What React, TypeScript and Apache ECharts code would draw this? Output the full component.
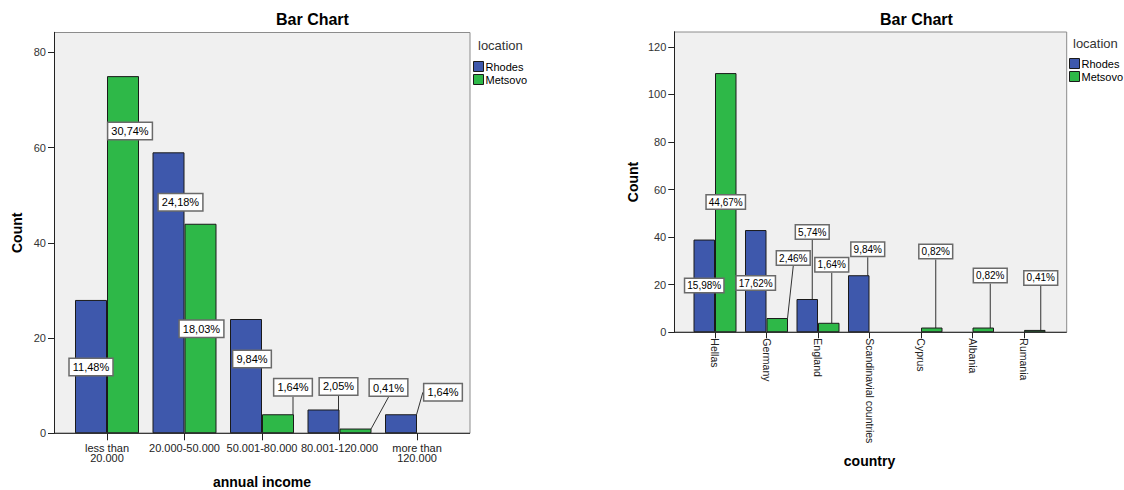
import React, { useEffect, useRef } from "react";
import * as echarts from "echarts";

// ---------- data ----------
const incomeCategories = ["less than\n20.000", "20.000-50.000", "50.001-80.000", "80.001-120.000", "more than\n120.000"];
const incomeRhodes = [28, 59, 24, 5, 4];
const incomeMetsovo = [75, 44, 4, 1, null];
const incomeTicks = [0, 20, 40, 60, 80];

const countryCategories = ["Hellas", "Germany", "England", "Scandinavial countries", "Cyprus", "Albania", "Rumania"];
const countryRhodes = [39, 43, 14, 24, null, null, null];
const countryMetsovo = [109, 6, 4, null, 2, 2, 1];
const countryTicks = [0, 20, 40, 60, 80, 100, 120];

const seriesNames = ["Rhodes", "Metsovo"];
const chartTitle = "Bar Chart";
const legendTitle = "location";

// ---------- layout / style (not data) ----------
const FONT = "'Liberation Sans', Arial, sans-serif";
const COLORS = ["#3E58AC", "#2EB848"];

// label placement in px: [dx of label centre from bar centre, dy of label centre from bar top,
//   leader start dx from label centre, leader end dx from bar centre]
const incomeLabelOffsets: (number[] | null)[][] = [
  [[0, 67], [12, 50], [6, 40], [15, -23, -10, 3], [42, -22, -18, 11]],
  [[7, 55], [1, 105], [15, -27, -9, 2], [33, -41, -18, 1], null],
];
const countryLabelOffsets: (number[] | null)[][] = [
  [[0, 46], [0, 53], [5, -67, -3, 0], [9, -26, -8, 0], null, null, null],
  [[0, 129], [16, -60, -11, 0], [3, -58, 0, -1], null, [4, -76, 0, 2], [7, -52, 0, 2], [6, -52, 1, 2]],
];

const sum = (a: (number | null)[]) => a.reduce((s: number, v) => s + (v ?? 0), 0);
const incomeTotal = sum(incomeRhodes) + sum(incomeMetsovo);
const countryTotal = sum(countryRhodes) + sum(countryMetsovo);

function pct(v: number, total: number) {
  return (Math.round((v / total) * 10000) / 100).toFixed(2).replace(".", ",") + "%";
}

function makeSeries(
  name: string,
  colorIdx: number,
  values: (number | null)[],
  offsets: (number[] | null)[],
  axisIdx: number,
  total: number,
  barWidth: number,
  fontSize: number,
  padding: number[]
) {
  return {
    type: "bar",
    name,
    xAxisIndex: axisIdx,
    yAxisIndex: axisIdx,
    barWidth,
    barGap: "0%",
    data: values.map((v, i) =>
      v == null
        ? "-"
        : { value: v, labelLine: { show: !!offsets[i] && offsets[i]!.length > 2 } }
    ),
    itemStyle: { color: COLORS[colorIdx], borderColor: "#1a1a1a", borderWidth: 1 },
    label: {
      show: true,
      position: "inside",
      formatter: (p: any) => pct(p.value, total),
      backgroundColor: "#ffffff",
      borderColor: "#6a6a6a",
      borderWidth: 1.5,
      padding,
      color: "#000",
      fontSize,
      fontFamily: FONT,
    },
    labelLine: { show: false, lineStyle: { color: "#333", width: 1 } },
    labelLayout: (params: any) => {
      const off = offsets[params.dataIndex];
      if (!off) return {};
      const r = params.rect;
      const top = Math.min(r.y, r.y + r.height);
      const cx = r.x + r.width / 2;
      const lx = cx + off[0];
      const ly = top + off[1];
      const res: any = { x: lx, y: ly, align: "center", verticalAlign: "middle" };
      if (off.length > 2) {
        const lh = params.labelRect ? params.labelRect.height : 16;
        res.labelLinePoints = [
          [lx + off[2], ly + lh / 2],
          [cx + off[3], top],
        ];
      }
      return res;
    },
  };
}

const frames = [
  { x: 54.5, y: 32.5, w: 415.5, h: 400.8 },
  { x: 674.5, y: 32, w: 392.2, h: 300.3 },
];

const option: any = {
  animation: false,
  backgroundColor: "#ffffff",
  textStyle: { fontFamily: FONT },
  title: [
    { text: chartTitle, left: 276, top: 11, padding: 0, textStyle: { fontSize: 16, fontWeight: "bold", color: "#000", fontFamily: FONT } },
    { text: chartTitle, left: 880, top: 11, padding: 0, textStyle: { fontSize: 16, fontWeight: "bold", color: "#000", fontFamily: FONT } },
    { text: legendTitle, left: 478, top: 39, padding: 0, textStyle: { fontSize: 13, fontWeight: "normal", color: "#333", fontFamily: FONT } },
    { text: legendTitle, left: 1073, top: 37, padding: 0, textStyle: { fontSize: 13, fontWeight: "normal", color: "#333", fontFamily: FONT } },
  ],
  legend: [
    {
      data: seriesNames, orient: "vertical", left: 473, top: 61, padding: 0,
      itemWidth: 10, itemHeight: 10, itemGap: 2, icon: "rect",
      itemStyle: { borderColor: "#1a1a1a", borderWidth: 1 },
      textStyle: { fontSize: 11, lineHeight: 11, color: "#000", fontFamily: FONT, padding: [0, 0, 0, -3] },
      selectedMode: false,
    },
    {
      data: seriesNames, orient: "vertical", left: 1069, top: 58, padding: 0,
      itemWidth: 10, itemHeight: 10, itemGap: 2, icon: "rect",
      itemStyle: { borderColor: "#1a1a1a", borderWidth: 1 },
      textStyle: { fontSize: 11, lineHeight: 11, color: "#000", fontFamily: FONT, padding: [0, 0, 0, -3] },
      selectedMode: false,
    },
  ],
  grid: [
    { left: 68.25, top: 32.3, width: 387.5, height: 401, containLabel: false, outerBoundsMode: "none" },
    { left: 689.25, top: 31.7, width: 360.5, height: 300.6, containLabel: false, outerBoundsMode: "none" },
  ],
  xAxis: [
    {
      type: "category", gridIndex: 0, data: incomeCategories,
      axisLine: { show: false },
      axisTick: { show: true, alignWithLabel: true, length: 7, lineStyle: { color: "#222" } },
      axisLabel: { interval: 0, color: "#222", fontSize: 11, lineHeight: 10, margin: 10, fontFamily: FONT },
      name: "annual income", nameLocation: "middle", nameGap: 42,
      nameTextStyle: { fontWeight: "bold", fontSize: 14, color: "#000", fontFamily: FONT },
    },
    {
      type: "category", gridIndex: 1, data: countryCategories,
      axisLine: { show: false },
      axisTick: { show: true, alignWithLabel: true, length: 6, lineStyle: { color: "#222" } },
      axisLabel: { interval: 0, rotate: -90, color: "#222", fontSize: 10.5, margin: 6, fontFamily: FONT },
      name: "country", nameLocation: "middle", nameGap: 122,
      nameTextStyle: { fontWeight: "bold", fontSize: 14, color: "#000", fontFamily: FONT },
    },
  ],
  yAxis: [
    {
      type: "value", gridIndex: 0, min: 0, max: 84.2, interval: 20, offset: 14.25,
      axisLine: { show: true, lineStyle: { color: "#222" } },
      axisTick: { show: true, length: 6, customValues: incomeTicks, lineStyle: { color: "#222" } },
      axisLabel: { customValues: incomeTicks, color: "#333", fontSize: 11, margin: 8, fontFamily: FONT },
      splitLine: { show: false },
      name: "Count", nameLocation: "middle", nameRotate: 90, nameGap: 30,
      nameTextStyle: { fontWeight: "bold", fontSize: 14, color: "#000", fontFamily: FONT },
    },
    {
      type: "value", gridIndex: 1, min: 0, max: 126.4, interval: 20, offset: 15,
      axisLine: { show: true, lineStyle: { color: "#222" } },
      axisTick: { show: true, length: 6, customValues: countryTicks, lineStyle: { color: "#222" } },
      axisLabel: { customValues: countryTicks, color: "#333", fontSize: 11, margin: 8, fontFamily: FONT },
      splitLine: { show: false },
      name: "Count", nameLocation: "middle", nameRotate: 90, nameGap: 34,
      nameTextStyle: { fontWeight: "bold", fontSize: 14, color: "#000", fontFamily: FONT },
    },
  ],
  graphic: [
    ...frames.map((f) => ({
      type: "rect", silent: true, z: -10,
      shape: { x: f.x, y: f.y, width: f.w, height: f.h },
      style: { fill: "#f0f0f0", stroke: "#8c8c8c", lineWidth: 1 },
    })),
    ...frames.map((f) => ({
      type: "line", silent: true, z: 50,
      shape: { x1: f.x - 0.5, y1: f.y + f.h, x2: f.x + f.w, y2: f.y + f.h },
      style: { stroke: "#222", lineWidth: 1 },
    })),
  ],
  series: [
    makeSeries(seriesNames[0], 0, incomeRhodes, incomeLabelOffsets[0], 0, incomeTotal, 32, 11, [3, 3, 2, 3]),
    makeSeries(seriesNames[1], 1, incomeMetsovo, incomeLabelOffsets[1], 0, incomeTotal, 32, 11, [3, 3, 2, 3]),
    makeSeries(seriesNames[0], 0, countryRhodes, countryLabelOffsets[0], 1, countryTotal, 21.5, 10, [2, 2, 1, 2]),
    makeSeries(seriesNames[1], 1, countryMetsovo, countryLabelOffsets[1], 1, countryTotal, 21.5, 10, [2, 2, 1, 2]),
  ],
};

export default function App() {
  const ref = useRef<HTMLDivElement>(null);
  useEffect(() => {
    const chart = echarts.init(ref.current!, null, { renderer: "svg" });
    chart.setOption(option);
    return () => chart.dispose();
  }, []);
  return (
    <div
      ref={ref}
      style={{ position: "absolute", left: 0, top: 0, width: 1124, height: 490 }}
    />
  );
}
